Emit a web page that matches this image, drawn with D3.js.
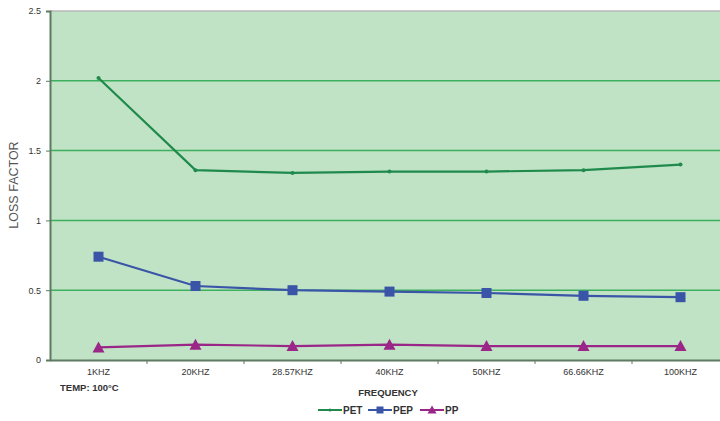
<!DOCTYPE html>
<html><head><meta charset="utf-8">
<script src="https://cdn.jsdelivr.net/npm/d3@7"></script>
<style>body{margin:0;background:#fff;}svg{display:block;font-family:Arial,"Liberation Sans",sans-serif;}</style>
</head><body>
<svg id="c" width="720" height="421"></svg>
<script>
const categories = ["1KHZ","20KHZ","28.57KHZ","40KHZ","50KHZ","66.66KHZ","100KHZ"];
const petValues = [2.02,1.36,1.34,1.35,1.35,1.36,1.40];
const pepValues = [0.74,0.53,0.50,0.49,0.48,0.46,0.45];
const ppValues  = [0.09,0.11,0.10,0.11,0.10,0.10,0.10];
const yTicks = [0,0.5,1,1.5,2,2.5];
const yTickLabels = ["0","0.5","1","1.5","2","2.5"];

const series = [
  {name:"PET", values:petValues, color:"#1f8a4c", marker:"dot"},
  {name:"PEP", values:pepValues, color:"#3a55a8", marker:"square"},
  {name:"PP",  values:ppValues,  color:"#9a2787", marker:"triangle"}
];

const svg = d3.select("#c");
const mLeft = 50, mTop = 11, mBottom = 360, bandW = 97;
const x = d3.scaleBand().domain(categories).range([mLeft, mLeft + bandW*categories.length]);
const y = d3.scaleLinear().domain([0,2.5]).range([mBottom, mTop]);

svg.append("rect").attr("x", mLeft).attr("y", mTop).attr("width", 720-mLeft).attr("height", mBottom-mTop)
  .attr("fill","#bfe3c4");
svg.append("line").attr("x1",mLeft).attr("x2",720).attr("y1",mTop).attr("y2",mTop)
  .attr("stroke","#b8b8b8").attr("stroke-width",1.5);

// grid
svg.append("g").selectAll("line").data(yTicks.filter(d=>d>0 && d<2.5)).join("line")
  .attr("x1",mLeft).attr("x2",720).attr("y1",d=>y(d)).attr("y2",d=>y(d))
  .attr("stroke","#3daf5e").attr("stroke-width",1.5);

// y axis
const yAxis = d3.axisLeft(y).tickValues(yTicks).tickFormat((d,i)=>yTickLabels[i]).tickSize(4).tickPadding(5);
const gy = svg.append("g").attr("transform",`translate(${mLeft},0)`).call(yAxis);
gy.select(".domain").attr("stroke","#5f7a62").attr("stroke-width",2);
gy.selectAll(".tick line").attr("stroke","#5f7a62");
gy.selectAll("text").attr("font-size",9).attr("fill","#333");

// x axis
const xAxis = d3.axisBottom(x).tickSize(0).tickPadding(9);
const gx = svg.append("g").attr("transform",`translate(0,${mBottom})`).call(xAxis);
gx.select(".domain").attr("stroke","#5f7a62").attr("stroke-width",2);
gx.selectAll("text").attr("font-size",9).attr("fill","#333");
svg.append("g").selectAll("line").data(categories.slice(1)).join("line")
  .attr("x1",d=>x(d)).attr("x2",d=>x(d)).attr("y1",mBottom).attr("y2",mBottom+4)
  .attr("stroke","#5f7a62");

const cx = d => x(d) + x.bandwidth()/2;
const line = d3.line().x((d,i)=>cx(categories[i])).y(d=>y(d));

function drawMarker(g, type, color, px, py){
  if(type==="dot") g.append("circle").attr("cx",px).attr("cy",py).attr("r",2).attr("fill",color);
  else if(type==="square") g.append("rect").attr("x",px-5).attr("y",py-5).attr("width",10).attr("height",10).attr("fill",color);
  else g.append("path").attr("d",`M${px},${py-6}L${px+6},${py+5}L${px-6},${py+5}Z`).attr("fill",color);
}

series.forEach(s=>{
  svg.append("path").datum(s.values).attr("d",line).attr("fill","none")
    .attr("stroke",s.color).attr("stroke-width",2.2);
  const g = svg.append("g");
  s.values.forEach((v,i)=>drawMarker(g, s.marker, s.color, cx(categories[i]), y(v)));
});

// labels
svg.append("text").attr("transform","translate(18,185) rotate(-90)").attr("text-anchor","middle")
  .attr("font-size",12.5).attr("fill","#555").text("LOSS FACTOR");
svg.append("text").attr("x",60).attr("y",391).attr("font-size",9.5).attr("font-weight","bold")
  .attr("fill","#333").text("TEMP: 100°C");
svg.append("text").attr("x",388).attr("y",396).attr("text-anchor","middle").attr("font-size",9.5)
  .attr("font-weight","bold").attr("fill","#333").text("FREQUENCY");

// legend
const legX = [318, 368, 420];
series.forEach((s,i)=>{
  const g = svg.append("g");
  const lx = legX[i], ly = 410;
  g.append("line").attr("x1",lx).attr("x2",lx+24).attr("y1",ly).attr("y2",ly).attr("stroke",s.color).attr("stroke-width",2);
  const mx = lx+12;
  if(s.marker==="dot") g.append("circle").attr("cx",mx).attr("cy",ly).attr("r",1.5).attr("fill",s.color);
  else if(s.marker==="square") g.append("rect").attr("x",mx-3.5).attr("y",ly-3.5).attr("width",7).attr("height",7).attr("fill",s.color);
  else g.append("path").attr("d",`M${mx},${ly-4.5}L${mx+4.5},${ly+3.5}L${mx-4.5},${ly+3.5}Z`).attr("fill",s.color);
  g.append("text").attr("x",lx+25).attr("y",ly+3.5).attr("font-size",10).attr("font-weight","bold")
    .attr("fill","#333").text(s.name);
});
</script>
</body></html>
